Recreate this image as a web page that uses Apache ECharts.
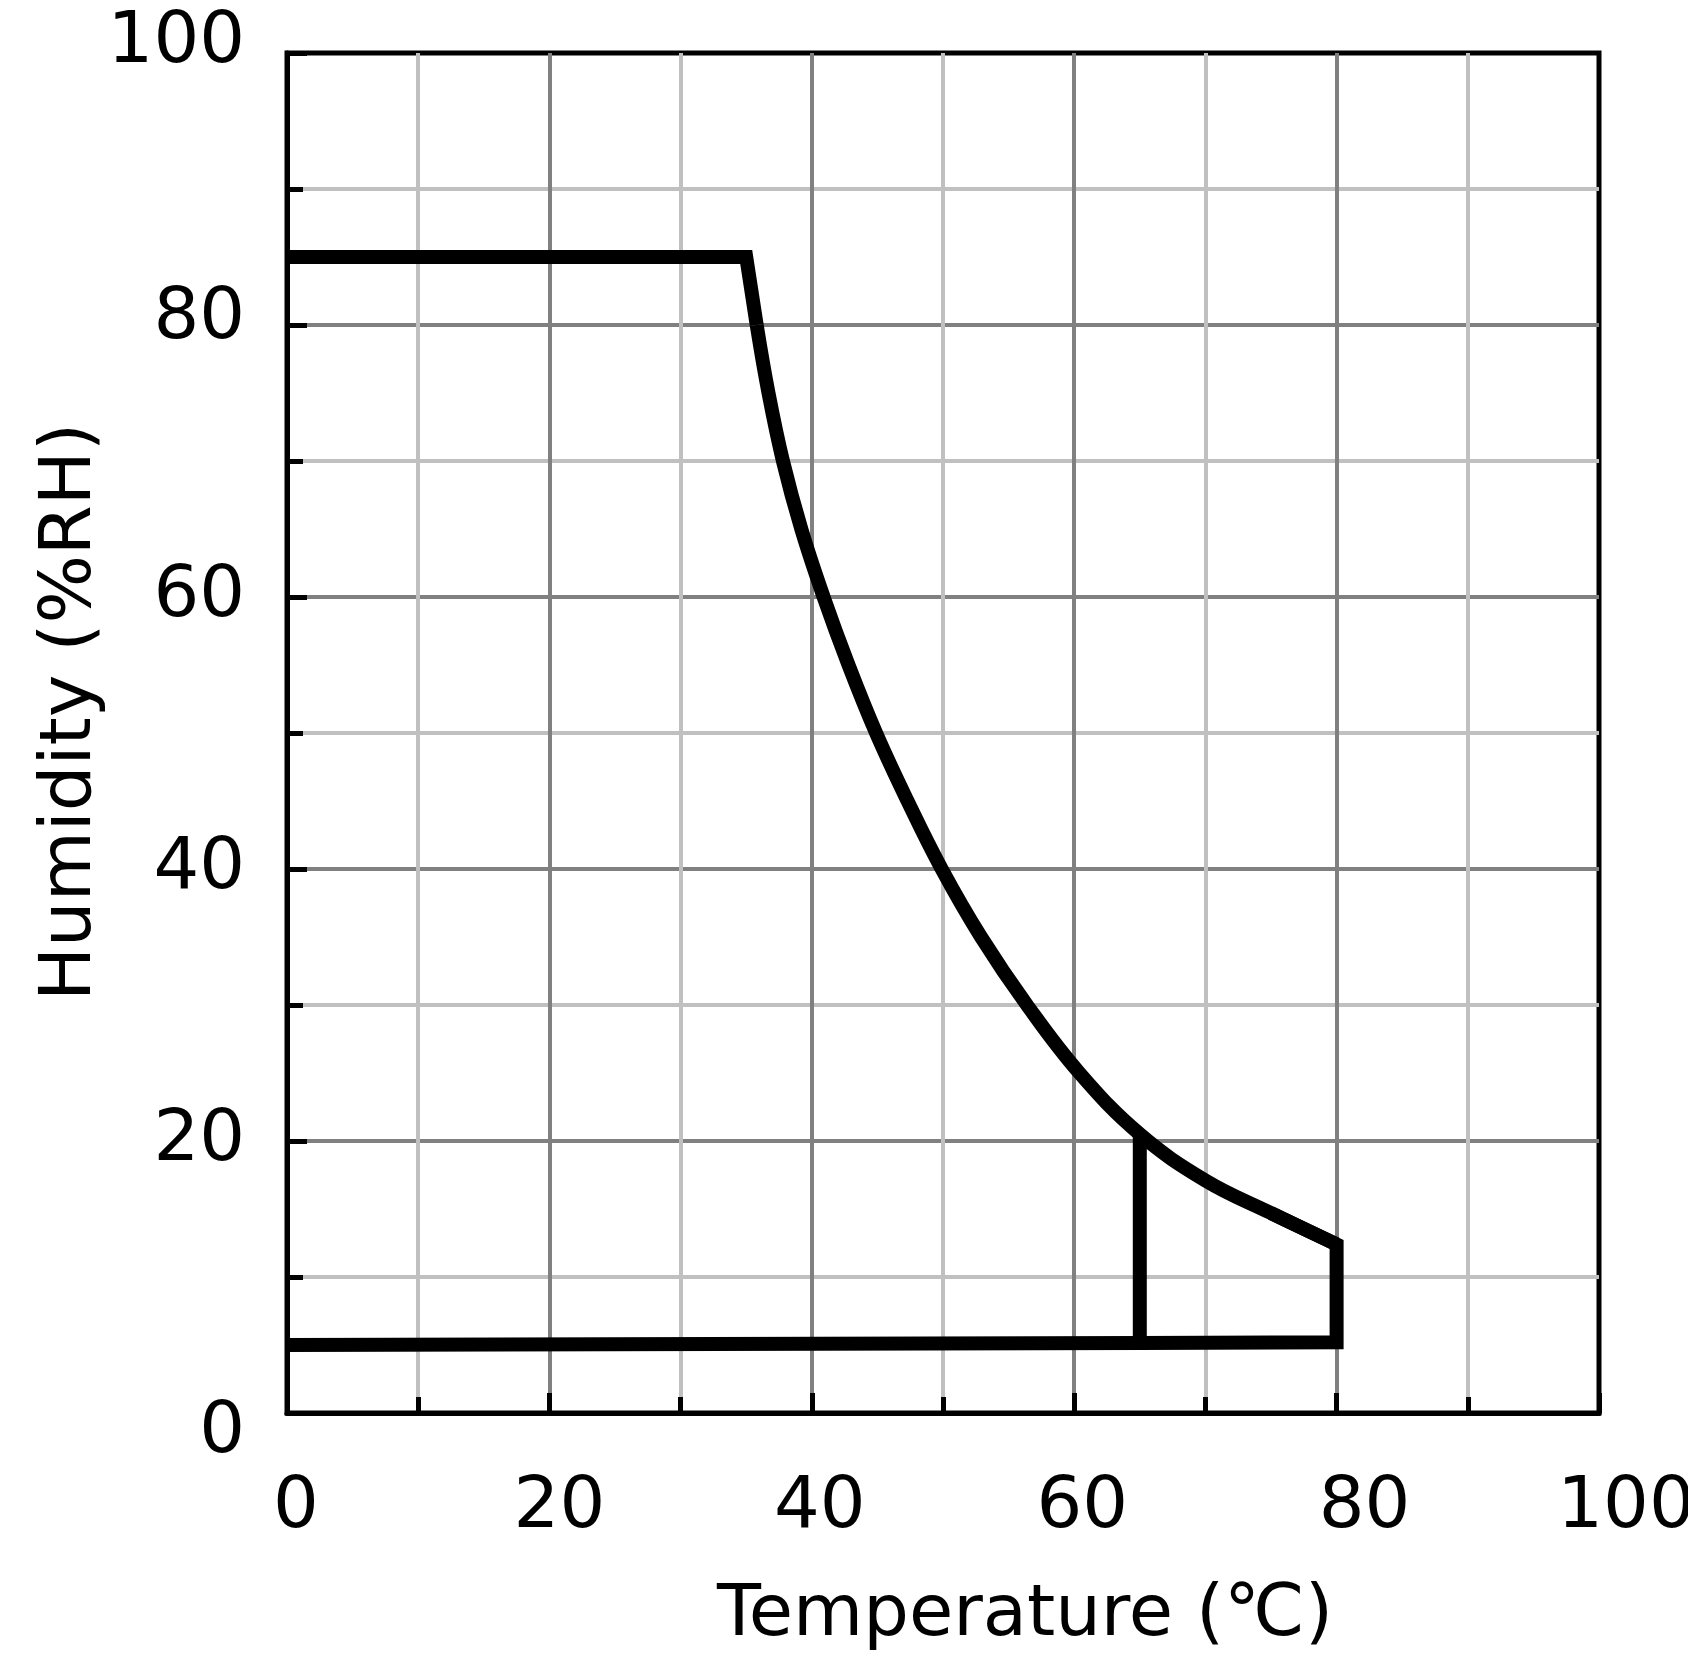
<!DOCTYPE html>
<html>
<head>
<meta charset="utf-8">
<title>Humidity vs Temperature</title>
<script src="https://cdn.jsdelivr.net/npm/echarts@6.0.0/dist/echarts.min.js"></script>
<style>
  html, body { margin: 0; padding: 0; background: #fff; }
  #chart { width: 1688px; height: 1673px; }
</style>
</head>
<body>
<div id="chart"></div>
<script>
  // tick labels of both axes
  const xTicks = [0, 20, 40, 60, 80, 100];
  const yTicks = [0, 20, 40, 60, 80, 100];

  // flat 85% part up to 35C (plus first bit of the curve so the corner joins)
  const topTemp = [0, 35, 35.8];
  const topRH   = [85, 85, 80];

  // derating curve 35C .. 80C
  const curveTemp = [35.8, 36.7, 37.8, 39.2, 40.9, 42.8, 44.9, 47.3, 49.9, 52.9, 56.4, 60.4, 65, 70, 75, 80];
  const curveRH   = [80, 75, 70, 65, 60, 55, 50, 45, 40, 35, 30, 25, 20.5, 17.1, 14.7, 12.4];

  // right edge and bottom line back to 0C
  const edgeTemp = [75, 80, 80, 65, 0];
  const edgeRH   = [14.7, 12.4, 5.2, 5.15, 5.0];

  // vertical divider at 65C
  const divTemp = [65, 65];
  const divRH   = [20.5, 5.15];

  const FONT = 'DejaVu Sans';
  const FSIZE = 72;

  // small nudges of single labels (px), like in the original drawing
  const xLabelShift = {0: 9, 20: 10, 40: 8, 60: 8, 80: 28, 100: 27};
  const yLabelShift = {0: 20, 20: 0, 40: 0, 60: 0, 80: -6, 100: -10};

  function makeRich(shift, horizontal) {
    const rich = {};
    Object.keys(shift).forEach(function (v) {
      const s = shift[v];
      let pad = [0, 0, 0, 0];
      if (horizontal) {
        pad = s >= 0 ? [0, 0, 0, 2 * s] : [0, -2 * s, 0, 0];
      } else {
        pad = s >= 0 ? [2 * s, 0, 0, 0] : [0, 0, -2 * s, 0];
      }
      rich['t' + v] = { fontFamily: FONT, fontSize: FSIZE, color: '#000', padding: pad };
    });
    return rich;
  }

  function zip(xs, ys) {
    return xs.map(function (x, i) { return [x, ys[i]]; });
  }

  const myChart = echarts.init(document.getElementById('chart'));

  const axisCommon = {
    type: 'value',
    nameMoveOverlap: false,
    axisLine: { show: true, onZero: false, lineStyle: { color: '#000', width: 5 } },
    axisTick: { show: true, inside: true, length: 20, lineStyle: { color: '#000', width: 5 } },
    minorTick: { show: true, splitNumber: 2, length: 16, lineStyle: { color: '#000', width: 5 } },
    splitLine: { show: true, showMinLine: false, showMaxLine: false, lineStyle: { color: '#808080', width: 4 } },
    minorSplitLine: { show: true, lineStyle: { color: '#c0c0c0', width: 4 } }
  };

  const lineCommon = {
    type: 'line',
    showSymbol: false,
    z: 5,
    lineStyle: { color: '#000', width: 14, join: 'miter', cap: 'butt' }
  };

  const option = {
    backgroundColor: '#fff',
    animation: false,
    grid: {
      left: 287, top: 53, right: 89, bottom: 260,
      containLabel: false,
      outerBoundsMode: 'none',
      show: true, borderColor: '#000', borderWidth: 5, backgroundColor: 'transparent'
    },
    xAxis: Object.assign({}, axisCommon, {
      min: xTicks[0],
      max: xTicks[xTicks.length - 1],
      interval: xTicks[1] - xTicks[0],
      name: 'Temperature (℃)',
      nameLocation: 'middle',
      nameGap: 167,
      nameTextStyle: { fontFamily: FONT, fontSize: FSIZE, color: '#000', padding: [0, 0, 0, 164] },
      axisLabel: {
        margin: 59,
        formatter: function (v) { return '{t' + v + '|' + v + '}'; },
        rich: makeRich(xLabelShift, true)
      }
    }),
    yAxis: Object.assign({}, axisCommon, {
      min: yTicks[0],
      max: yTicks[yTicks.length - 1],
      interval: yTicks[1] - yTicks[0],
      name: 'Humidity (%RH)',
      nameLocation: 'middle',
      nameGap: 180,
      nameTextStyle: { fontFamily: FONT, fontSize: FSIZE, color: '#000', padding: [0, 0, 0, 42] },
      axisLabel: {
        margin: 42,
        formatter: function (v) { return '{t' + v + '|' + v + '}'; },
        rich: makeRich(yLabelShift, false)
      }
    }),
    series: [
      Object.assign({}, lineCommon, { data: zip(topTemp, topRH) }),
      Object.assign({}, lineCommon, { data: zip(curveTemp, curveRH), smooth: 0.4 }),
      Object.assign({}, lineCommon, { data: zip(edgeTemp, edgeRH) }),
      Object.assign({}, lineCommon, { data: zip(divTemp, divRH) })
    ]
  };

  myChart.setOption(option);
</script>
</body>
</html>
